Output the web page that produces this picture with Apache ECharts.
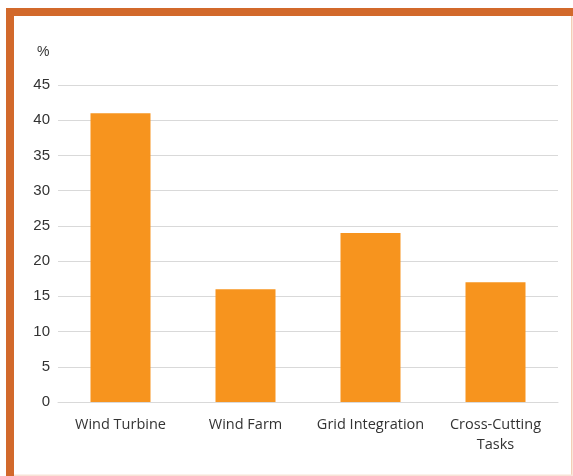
<!DOCTYPE html>
<html><head><meta charset="utf-8">
<script src="https://cdn.jsdelivr.net/npm/echarts@6/dist/echarts.min.js"></script>
<style>html,body{margin:0;padding:0;background:#fff}#c{width:573px;height:476px}</style>
</head><body><div id="c"></div>
<script>
const categories = ['Wind Turbine', 'Wind Farm', 'Grid Integration', 'Cross-Cutting\nTasks'];
const values = [41, 16, 24, 17];
const yTicks = [0, 5, 10, 15, 20, 25, 30, 35, 40, 45];
const unitLabel = '%';

const chart = echarts.init(document.getElementById('c'), null, {renderer: 'canvas'});
const font = 'Liberation Sans, Arial, sans-serif';
const xfont = 'Open Sans, Liberation Sans, sans-serif';
chart.setOption({
  animation: false,
  backgroundColor: '#fff',
  graphic: [
    {type: 'rect', shape: {x: 6, y: 8, width: 567, height: 8}, style: {fill: '#D2692B'}},
    {type: 'rect', shape: {x: 6, y: 8, width: 8, height: 468}, style: {fill: '#D2692B'}},
    {type: 'rect', shape: {x: 571, y: 16, width: 1.5, height: 460}, style: {fill: '#F3CDB5'}},
    {type: 'rect', shape: {x: 14, y: 474.5, width: 558, height: 1.5}, style: {fill: '#F8E2D5'}},
    {type: 'text', left: 37, top: 45, style: {text: unitLabel, font: '14px ' + font, fill: '#333'}}
  ],
  grid: {left: 58, right: 15, top: 85, bottom: 74, containLabel: false},
  xAxis: {
    type: 'category', data: categories,
    axisLine: {show: true, lineStyle: {color: '#d9d9d9', width: 1}},
    axisTick: {show: false},
    axisLabel: {color: '#333', fontSize: 14.5, fontFamily: xfont, margin: 13, lineHeight: 20, interval: 0}
  },
  yAxis: {
    type: 'value', min: 0, max: 45, interval: 5,
    axisLine: {show: false}, axisTick: {show: false},
    axisLabel: {color: '#333', fontSize: 15, fontFamily: font, margin: 8,
      formatter: v => yTicks.includes(v) ? String(v) : ''},
    splitLine: {lineStyle: {color: '#d9d9d9', width: 1}}
  },
  series: [{
    type: 'bar', data: values, barWidth: 60,
    itemStyle: {color: '#F7941E'}
  }]
});
</script></body></html>
